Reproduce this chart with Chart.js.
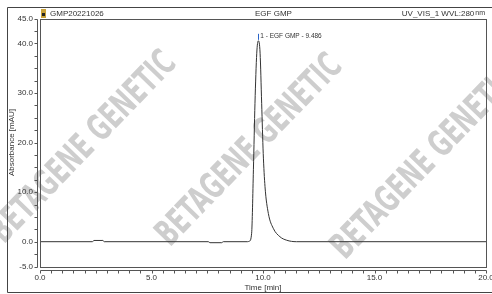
<!DOCTYPE html>
<html>
<head>
<meta charset="utf-8">
<script src="https://cdn.jsdelivr.net/npm/chart.js"></script>
<style>
html, body { margin: 0; padding: 0; background: #fff; }
</style>
</head>
<body>
<canvas id="myChart" width="492" height="294"></canvas>
<script>
// retention time [min] / absorbance [mAU]
var TIME = [0, 2.35, 2.42, 2.82, 2.88, 7.55, 7.62, 8.15, 8.22, 9.3, 9.39, 9.49, 9.57, 9.64, 9.72, 9.79, 9.87, 9.94, 10.01, 10.09, 10.24, 10.46, 10.76, 11.06, 11.5, 20];
var ABS  = [0, 0, 0.25, 0.25, 0, 0, -0.2, -0.2, 0, 0, 0.1, 1.7, 14.5, 27.9, 38, 40.5, 38, 27.9, 17.8, 11.1, 5.7, 2.7, 1.0, 0.3, 0, 0];

var X_LABELS = [0, 5, 10, 15, 20];
var Y_LABELS = [45, 40, 30, 20, 10, 0, -5];

var SAMPLE = 'GMP20221026';
var INJECTION = 'EGF GMP';
var CHANNEL = 'UV_VIS_1 WVL:280';
var CHANNEL_UNIT = 'nm';
var PEAK_LABEL = '1 - EGF GMP - 9.486';
var WATERMARK = 'BETAGENE GENETIC';

var FONT = "'Liberation Sans', Arial, sans-serif";
var LINE = '#555';

var framePlugin = {
    id: 'frame',
    beforeDraw: function(chart) {
        var c = chart.ctx;
        // watermarks
        var spots = [[84, 148], [250, 151], [425, 164]];
        c.save();
        c.fillStyle = '#cecece';
        c.font = "bold 36px 'Liberation Sans Narrow', 'DejaVu Sans Condensed', sans-serif";
        c.textAlign = 'center';
        c.textBaseline = 'middle';
        var w = c.measureText(WATERMARK).width;
        for (var i = 0; i < spots.length; i++) {
            c.save();
            c.translate(spots[i][0], spots[i][1]);
            c.rotate(-46 * Math.PI / 180);
            c.scale(250 / w, 1);
            c.fillText(WATERMARK, 0, 0);
            c.restore();
        }
        c.restore();
    },
    afterDraw: function(chart) {
        var c = chart.ctx, a = chart.chartArea;
        var xs = chart.scales.x, ys = chart.scales.y;
        var L = Math.round(a.left) + 0.5, R = Math.round(a.right) + 0.5;
        var T = Math.round(a.top) + 0.5, B = Math.round(a.bottom) + 0.5;
        c.save();
        c.strokeStyle = LINE;
        c.lineWidth = 1;
        // plot box
        c.strokeRect(L, T, R - L, B - T);
        // y axis line + ticks
        var ax = L - 3;
        c.beginPath();
        c.moveTo(ax, T); c.lineTo(ax, B);
        ys.ticks.forEach(function(t) {
            var py = Math.round(ys.getPixelForValue(t.value)) + 0.5;
            c.moveTo(ax - 3, py); c.lineTo(ax, py);
        });
        // x axis line + ticks
        var ay = B + 3;
        c.moveTo(L, ay); c.lineTo(R, ay);
        xs.ticks.forEach(function(t) {
            var px = Math.round(xs.getPixelForValue(t.value)) + 0.5;
            c.moveTo(px, ay); c.lineTo(px, ay + 3);
        });
        c.stroke();
        // outer frame
        c.strokeStyle = '#444';
        c.beginPath();
        c.moveTo(492, 7.5); c.lineTo(7.5, 7.5); c.lineTo(7.5, 292.5); c.lineTo(492, 292.5);
        c.stroke();
        // header
        c.fillStyle = '#c9a23a';
        c.fillRect(41, 9, 5, 9);
        c.fillStyle = '#222';
        c.fillRect(42, 13, 3, 3);
        c.fillStyle = '#333';
        c.font = '8px ' + FONT;
        c.textBaseline = 'middle';
        c.textAlign = 'left';
        c.fillText(SAMPLE, 50, 13.5);
        c.fillText(INJECTION, 255, 13.5);
        c.font = '7px ' + FONT;
        c.textAlign = 'right';
        var uw = c.measureText(CHANNEL_UNIT).width;
        c.fillText(CHANNEL_UNIT, 485, 13.5);
        c.font = '8px ' + FONT;
        c.fillText(CHANNEL, 484 - uw, 13.5);
        // peak label
        var k = ABS.indexOf(Math.max.apply(null, ABS));
        var ppx = xs.getPixelForValue(TIME[k]), ppy = ys.getPixelForValue(ABS[k]);
        c.strokeStyle = '#2a64c8';
        c.beginPath();
        c.moveTo(Math.round(ppx) + 0.5, ppy - 1); c.lineTo(Math.round(ppx) + 0.5, ppy - 7);
        c.stroke();
        c.fillStyle = '#333';
        c.font = '6.5px ' + FONT;
        c.textAlign = 'left';
        c.fillText(PEAK_LABEL, ppx + 2, ppy - 4.5);
        c.restore();
    }
};

var points = TIME.map(function(t, i) { return {x: t, y: ABS[i]}; });

var ctx = document.getElementById('myChart').getContext('2d');
var chart = new Chart(ctx, {
    type: 'line',
    data: {
        datasets: [{
            data: points,
            borderColor: '#333',
            borderWidth: 1,
            pointRadius: 0,
            cubicInterpolationMode: 'monotone',
            fill: false
        }]
    },
    options: {
        responsive: false,
        animation: false,
        layout: {padding: {left: 0, right: 6, top: 18.5, bottom: 0}},
        plugins: {legend: {display: false}, tooltip: {enabled: false}},
        scales: {
            x: {
                type: 'linear', min: 0, max: 20,
                grid: {display: false, drawTicks: false},
                border: {display: false},
                ticks: {
                    stepSize: 0.5, autoSkip: false, maxRotation: 0, padding: 6,
                    color: '#333', font: {family: FONT, size: 8},
                    callback: function(v) { return X_LABELS.indexOf(v) >= 0 ? v.toFixed(1) : ''; }
                },
                title: {display: true, text: 'Time [min]', color: '#333', font: {family: FONT, size: 8}, padding: {top: 0, bottom: 1}},
                afterFit: function(s) { s.height = 27.5; s.paddingLeft = 0; s.paddingRight = 0; }
            },
            y: {
                min: -5, max: 45,
                grid: {display: false, drawTicks: false},
                border: {display: false},
                ticks: {
                    stepSize: 2.5, autoSkip: false, padding: 7,
                    color: '#333', font: {family: FONT, size: 8},
                    callback: function(v) { return Y_LABELS.indexOf(v) >= 0 ? v.toFixed(1) : ''; }
                },
                title: {display: true, text: 'Absorbance [mAU]', color: '#333', font: {family: FONT, size: 8}, padding: {top: 7, bottom: 0}},
                afterFit: function(s) { s.width = 40; s.paddingTop = 0; s.paddingBottom = 0; }
            }
        }
    },
    plugins: [framePlugin]
});
</script>
</body>
</html>
